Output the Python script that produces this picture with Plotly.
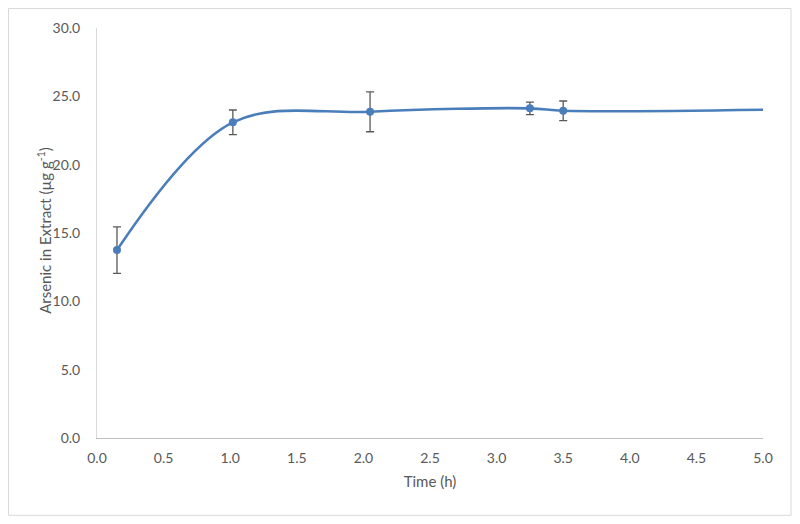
import plotly.graph_objects as go

time_h = [0.15, 1.02, 2.05, 3.25, 3.5, 5.0]
arsenic = [13.75, 23.1, 23.87, 24.12, 23.94, 24.02]
err = [1.7, 0.9, 1.46, 0.46, 0.72]

line_color = "#4a7ebb"
text_color = "#595959"
font_family = "Lato, 'Open Sans', sans-serif"

# page has an 8px body margin; figure is sized so it ends at the window edge
OFF = 8
L, T = 97 - OFF, 28 - OFF
W, H = 800 - OFF, 524 - OFF
R = W - (763 - OFF)
B = H - (438.3 - OFF)
pw = W - L - R
ph = H - T - B

fig = go.Figure()
fig.add_trace(go.Scatter(
    x=time_h, y=arsenic, mode="lines",
    line=dict(color=line_color, width=2.6, shape="spline", smoothing=1.0),
    hoverinfo="skip", showlegend=False))
fig.add_trace(go.Scatter(
    x=time_h[:5], y=arsenic[:5], mode="markers",
    marker=dict(color=line_color, size=8),
    error_y=dict(type="data", array=err, visible=True, color="#595959",
                 thickness=1.3, width=4),
    showlegend=False))

fx0, fy0, fx1, fy1 = 0.5, 0.5, 791 - OFF, 515.7 - OFF
fig.add_shape(type="rect", xref="paper", yref="paper",
              x0=(fx0 - L) / pw, x1=(fx1 - L) / pw,
              y0=(H - B - fy1) / ph, y1=(H - B - fy0) / ph,
              line=dict(color="#d9d9d9", width=1), layer="below")

# y-axis title placed as rotated text
fig.add_annotation(
    text="Arsenic in Extract (µg g<sup>-1</sup>)", textangle=-90,
    xref="paper", yref="paper",
    x=(45 - OFF - L) / pw, y=(H - B - (231 - OFF)) / ph,
    xanchor="center", yanchor="middle", showarrow=False,
    font=dict(size=15, color=text_color))

fig.update_layout(
    width=W, height=H,
    margin=dict(l=L, r=R, t=T, b=B, pad=0),
    paper_bgcolor="white", plot_bgcolor="white",
    font=dict(family=font_family, size=14, color=text_color),
    xaxis=dict(range=[0, 5], tickvals=[0, 0.5, 1, 1.5, 2, 2.5, 3, 3.5, 4, 4.5, 5],
               tickformat=".1f", showgrid=False, zeroline=False,
               showline=True, linecolor="#bfbfbf", linewidth=1,
               ticks="", ticklen=0, ticklabelstandoff=7, automargin=False,
               title=dict(text="Time (h)", font=dict(size=15, color=text_color), standoff=11)),
    yaxis=dict(range=[0, 30], tickvals=[0, 5, 10, 15, 20, 25, 30],
               tickformat=".1f", showgrid=False, zeroline=False,
               showline=True, linecolor="#d9d9d9", linewidth=1,
               ticks="", ticklen=0, ticklabelstandoff=13, automargin=False),
)

fig.write_html("out.html")
